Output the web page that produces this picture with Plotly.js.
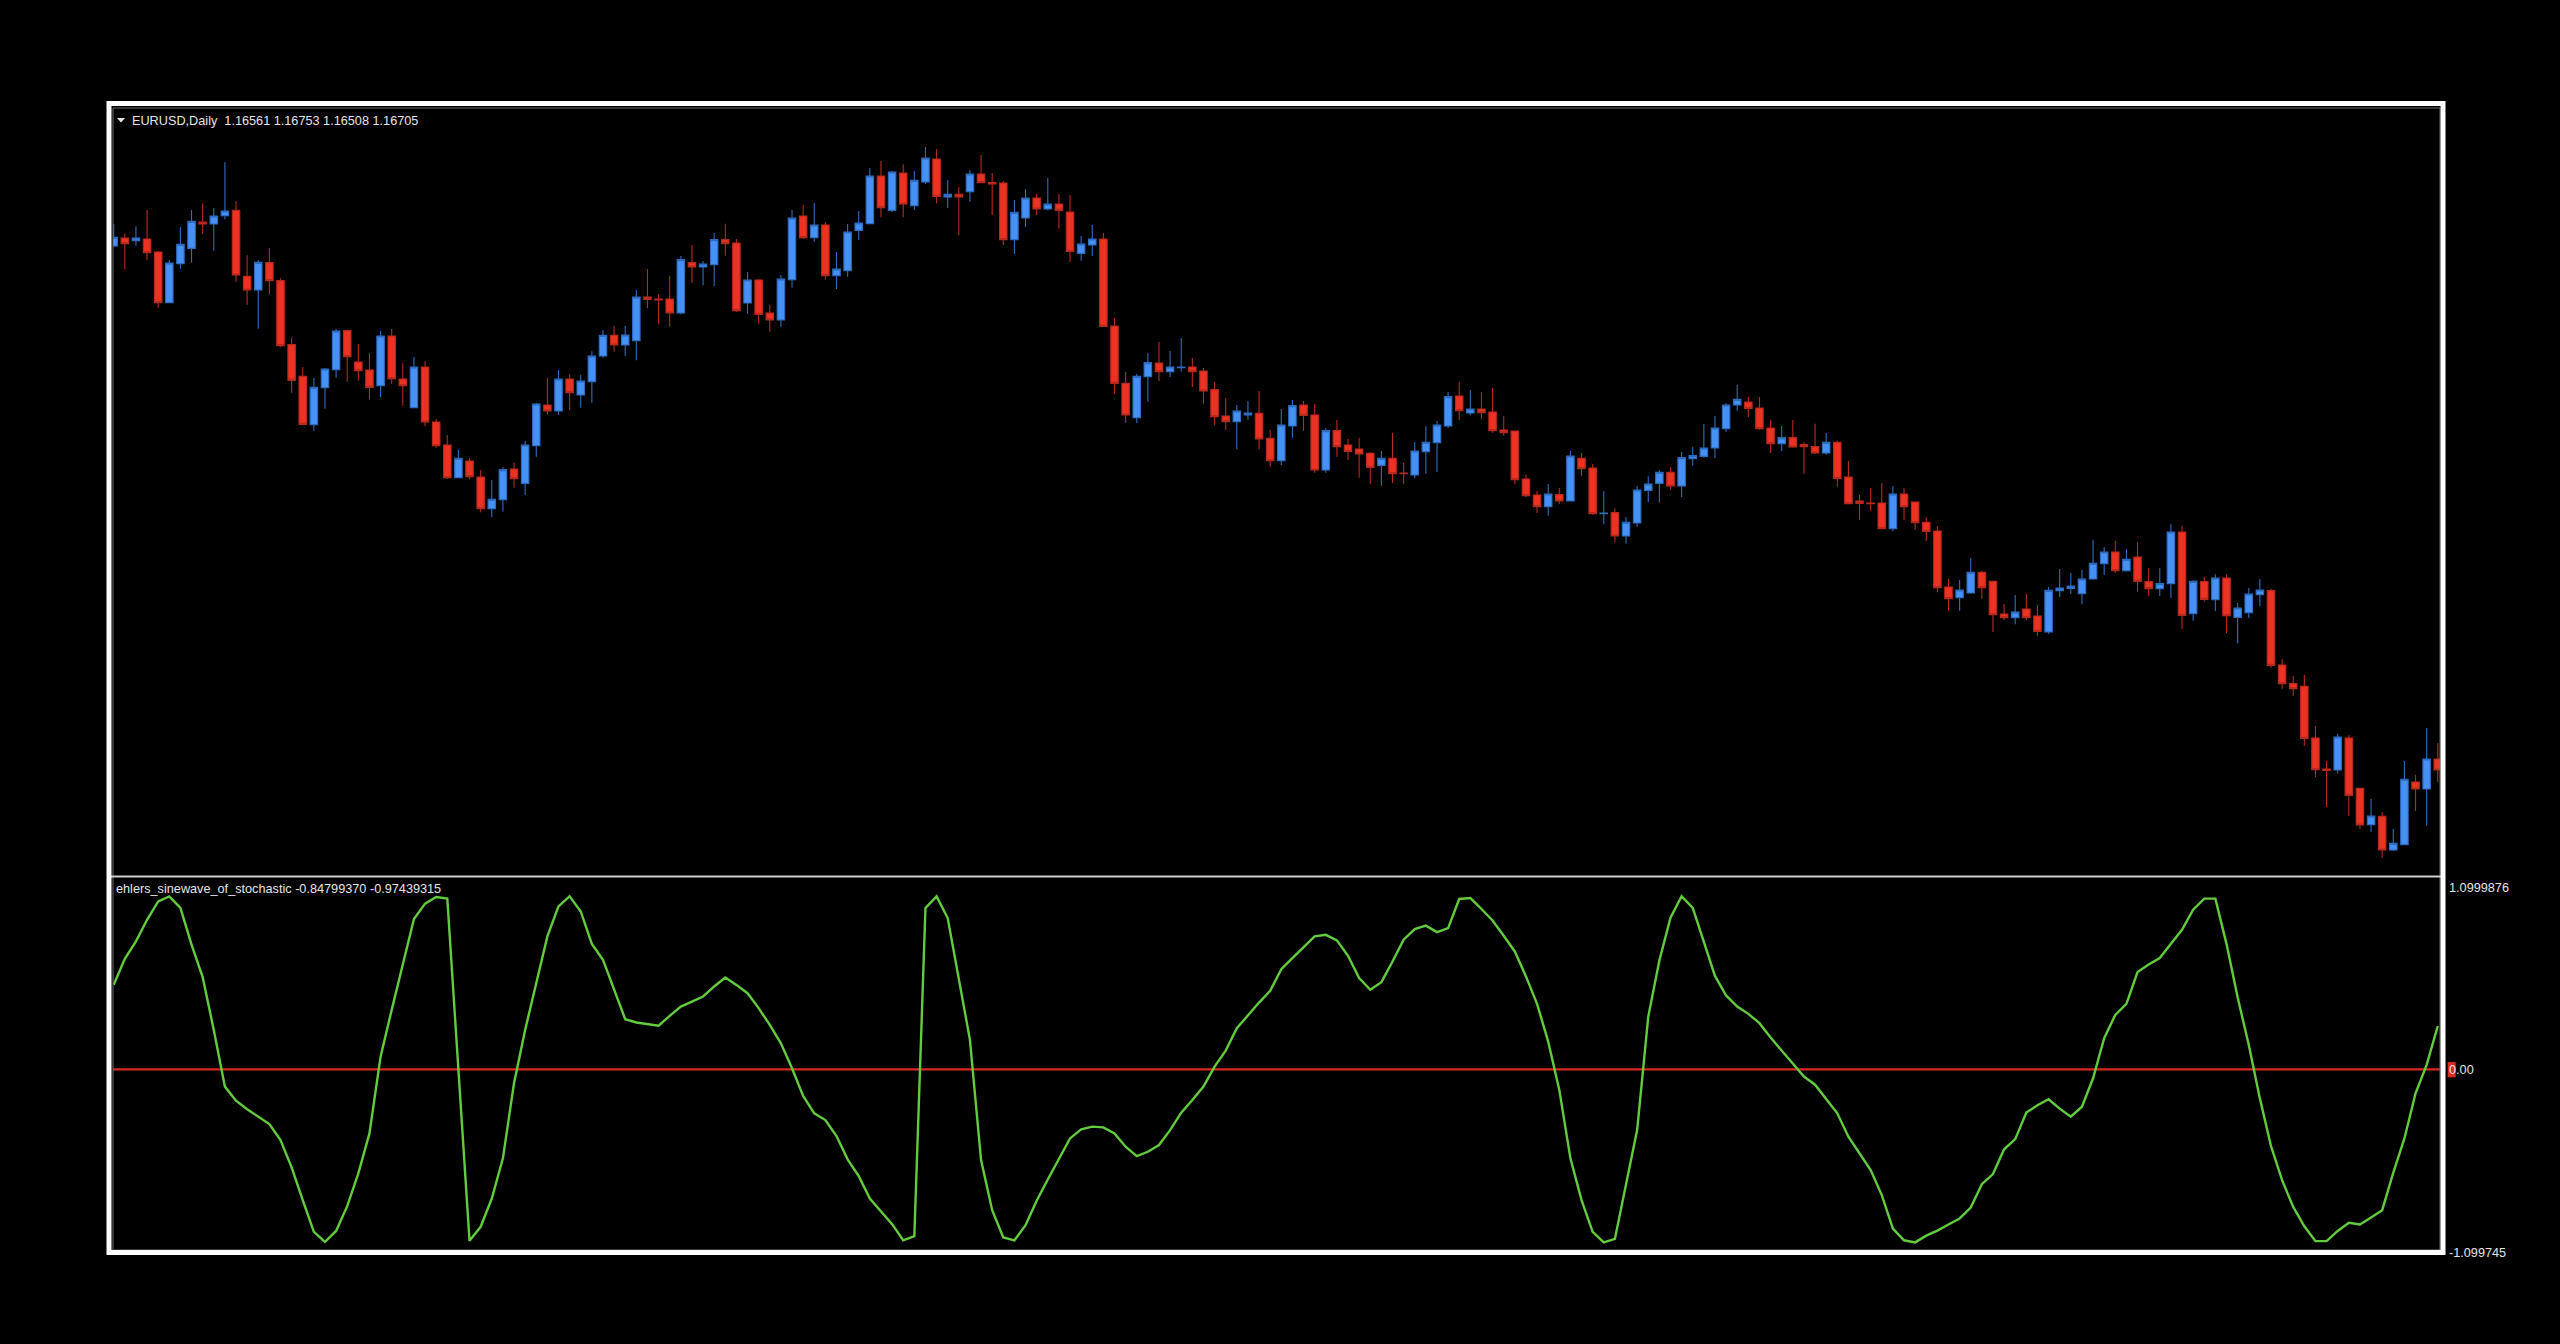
<!DOCTYPE html>
<html>
<head>
<meta charset="utf-8">
<script src="https://cdn.plot.ly/plotly-3.0.1.min.js"></script>
<style>
html,body{margin:0;padding:0;background:#000;overflow:hidden;}
#chart{width:2560px;height:1344px;}
</style>
</head>
<body>
<div id="chart"></div>
<script>
// ---- data (EURUSD Daily, 210 bars) ----
const symbolTitle = "EURUSD,Daily";
const headerOHLC = ["1.16561", "1.16753", "1.16508", "1.16705"];
const indicatorName = "ehlers_sinewave_of_stochastic";
const indicatorHeader = ["-0.84799370", "-0.97439315"];
const indicatorTicks = ["1.0999876", "0.00", "-1.099745"];

const openP = [
1.19804,1.19852,1.19836,1.19846,1.19768,1.19464,1.19698,1.19790,1.19948,1.19936,
1.19986,1.20018,1.19622,1.19540,1.19704,1.19596,1.19212,1.19022,1.18732,1.18954,
1.19062,1.19296,1.19108,1.19060,1.18966,1.19264,1.19006,1.18834,1.19078,1.18748,
1.18610,1.18414,1.18514,1.18418,1.18228,1.18282,1.18466,1.18380,1.18606,1.18850,
1.18814,1.19006,1.18910,1.18990,1.19144,1.19268,1.19210,1.19236,1.19498,1.19486,
1.19486,1.19402,1.19704,1.19678,1.19692,1.19842,1.19822,1.19462,1.19600,1.19402,
1.19360,1.19602,1.19984,1.19854,1.19930,1.19626,1.19656,1.19898,1.19938,1.20224,
1.20018,1.20242,1.20046,1.20188,1.20326,1.20098,1.20114,1.20130,1.20236,1.20184,
1.20182,1.19842,1.19972,1.20092,1.20026,1.20056,1.20008,1.19760,1.19810,1.19846,
1.19324,1.18980,1.18774,1.19020,1.19102,1.19050,1.19074,1.19078,1.19054,1.18942,
1.18784,1.18750,1.18790,1.18800,1.18650,1.18516,1.18724,1.18850,1.18790,1.18460,
1.18696,1.18610,1.18586,1.18560,1.18488,1.18530,1.18442,1.18430,1.18570,1.18624,
1.18724,1.18904,1.18802,1.18826,1.18808,1.18700,1.18694,1.18406,1.18310,1.18240,
1.18312,1.18274,1.18530,1.18472,1.18198,1.18204,1.18064,1.18142,1.18338,1.18380,
1.18446,1.18364,1.18528,1.18542,1.18592,1.18708,1.18850,1.18868,1.18832,1.18712,
1.18618,1.18654,1.18612,1.18600,1.18562,1.18626,1.18418,1.18274,1.18262,1.18262,
1.18108,1.18316,1.18268,1.18146,1.18094,1.17758,1.17694,1.17722,1.17846,1.17792,
1.17596,1.17574,1.17626,1.17584,1.17488,1.17736,1.17750,1.17718,1.17806,1.17898,
1.17968,1.17856,1.17938,1.17790,1.17748,1.17778,1.18088,1.17598,1.17790,1.17682,
1.17812,1.17576,1.17604,1.17712,1.17736,1.17290,1.17178,1.17162,1.16852,1.16666,
1.16660,1.16852,1.16550,1.16332,1.16382,1.16180,1.16212,1.16588,1.16546,1.16726
];
const highP = [
1.19936,1.19880,1.19922,1.20020,1.19774,1.19720,1.19918,1.20020,1.20060,1.20032,
1.20306,1.20072,1.19748,1.19720,1.19792,1.19610,1.19254,1.19078,1.19012,1.19072,
1.19308,1.19300,1.19216,1.19160,1.19294,1.19306,1.19102,1.19138,1.19114,1.18766,
1.18670,1.18580,1.18530,1.18460,1.18400,1.18476,1.18504,1.18634,1.18864,1.19010,
1.19060,1.19034,1.19030,1.19172,1.19298,1.19322,1.19326,1.19540,1.19666,1.19516,
1.19624,1.19744,1.19810,1.19714,1.19882,1.19938,1.19846,1.19648,1.19606,1.19450,
1.19630,1.20020,1.20050,1.20062,1.19946,1.19768,1.19936,1.20014,1.20272,1.20314,
1.20254,1.20294,1.20254,1.20398,1.20386,1.20198,1.20158,1.20260,1.20350,1.20242,
1.20194,1.20080,1.20144,1.20116,1.20212,1.20116,1.20110,1.19864,1.19930,1.19882,
1.19372,1.19050,1.19036,1.19160,1.19228,1.19174,1.19252,1.19132,1.19072,1.18988,
1.18892,1.18850,1.18874,1.18934,1.18700,1.18826,1.18880,1.18874,1.18856,1.18712,
1.18760,1.18646,1.18654,1.18568,1.18574,1.18682,1.18504,1.18628,1.18722,1.18754,
1.18928,1.18990,1.18940,1.18928,1.18952,1.18784,1.18696,1.18434,1.18334,1.18376,
1.18352,1.18574,1.18562,1.18496,1.18334,1.18230,1.18178,1.18364,1.18422,1.18460,
1.18476,1.18568,1.18598,1.18736,1.18784,1.18860,1.18970,1.18900,1.18898,1.18760,
1.18724,1.18760,1.18626,1.18738,1.18682,1.18636,1.18514,1.18310,1.18352,1.18382,
1.18366,1.18350,1.18268,1.18176,1.18124,1.17808,1.17800,1.17932,1.17856,1.17792,
1.17656,1.17710,1.17716,1.17650,1.17758,1.17866,1.17842,1.17860,1.18040,1.17998,
1.18036,1.17986,1.18026,1.17872,1.17872,1.18136,1.18124,1.17798,1.17820,1.17834,
1.17834,1.17662,1.17752,1.17806,1.17748,1.17326,1.17224,1.17232,1.16924,1.16714,
1.16878,1.16870,1.16550,1.16486,1.16406,1.16306,1.16714,1.16632,1.16912,1.16822
];
const lowP = [
1.19796,1.19664,1.19806,1.19720,1.19434,1.19464,1.19668,1.19704,1.19876,1.19776,
1.19964,1.19590,1.19452,1.19308,1.19514,1.19196,1.18924,1.18734,1.18696,1.18828,
1.19014,1.18990,1.18996,1.18882,1.18898,1.18978,1.18846,1.18834,1.18722,1.18594,
1.18406,1.18414,1.18404,1.18206,1.18176,1.18210,1.18354,1.18310,1.18540,1.18792,
1.18790,1.18818,1.18834,1.18864,1.19134,1.19170,1.19144,1.19118,1.19430,1.19338,
1.19320,1.19394,1.19584,1.19568,1.19564,1.19746,1.19408,1.19398,1.19338,1.19290,
1.19318,1.19554,1.19846,1.19830,1.19602,1.19546,1.19620,1.19840,1.19938,1.19976,
1.20008,1.19976,1.20020,1.20176,1.20060,1.20032,1.19868,1.20070,1.20184,1.19990,
1.19810,1.19756,1.19918,1.19990,1.20018,1.19908,1.19708,1.19716,1.19744,1.19318,
1.18916,1.18742,1.18742,1.18870,1.18994,1.19018,1.19050,1.18958,1.18858,1.18730,
1.18700,1.18584,1.18762,1.18584,1.18480,1.18490,1.18654,1.18696,1.18444,1.18444,
1.18540,1.18520,1.18414,1.18378,1.18366,1.18382,1.18376,1.18410,1.18438,1.18448,
1.18710,1.18760,1.18788,1.18766,1.18684,1.18666,1.18376,1.18298,1.18202,1.18186,
1.18256,1.18274,1.18424,1.18192,1.18134,1.18026,1.18018,1.18120,1.18268,1.18264,
1.18342,1.18298,1.18486,1.18534,1.18530,1.18690,1.18816,1.18776,1.18702,1.18562,
1.18574,1.18594,1.18438,1.18556,1.18552,1.18360,1.18258,1.18160,1.18216,1.18104,
1.18092,1.18162,1.18100,1.18036,1.17726,1.17616,1.17616,1.17718,1.17686,1.17488,
1.17560,1.17534,1.17560,1.17466,1.17478,1.17698,1.17716,1.17654,1.17802,1.17830,
1.17844,1.17850,1.17730,1.17704,1.17704,1.17694,1.17508,1.17556,1.17670,1.17614,
1.17482,1.17420,1.17572,1.17644,1.17274,1.17148,1.17104,1.16806,1.16618,1.16438,
1.16638,1.16384,1.16306,1.16288,1.16134,1.16174,1.16212,1.16414,1.16326,1.16590
];
const closeP = [
1.19856,1.19818,1.19852,1.19764,1.19464,1.19702,1.19814,1.19952,1.19936,1.19984,
1.20014,1.19630,1.19540,1.19706,1.19596,1.19206,1.18998,1.18734,1.18956,1.19066,
1.19294,1.19140,1.19056,1.18956,1.19264,1.19008,1.18966,1.19078,1.18748,1.18606,
1.18414,1.18530,1.18420,1.18228,1.18284,1.18462,1.18408,1.18610,1.18856,1.18814,
1.19006,1.18924,1.18994,1.19144,1.19268,1.19210,1.19270,1.19498,1.19484,1.19480,
1.19402,1.19722,1.19678,1.19696,1.19842,1.19818,1.19416,1.19600,1.19394,1.19360,
1.19606,1.19972,1.19854,1.19930,1.19626,1.19666,1.19888,1.19942,1.20224,1.20034,
1.20248,1.20056,1.20198,1.20332,1.20102,1.20114,1.20098,1.20236,1.20184,1.20176,
1.19842,1.20006,1.20092,1.20026,1.20056,1.20018,1.19772,1.19816,1.19846,1.19322,
1.18980,1.18790,1.19022,1.19104,1.19050,1.19078,1.19078,1.19050,1.18934,1.18780,
1.18750,1.18814,1.18802,1.18646,1.18516,1.18730,1.18846,1.18788,1.18460,1.18696,
1.18600,1.18572,1.18556,1.18476,1.18530,1.18438,1.18438,1.18574,1.18626,1.18730,
1.18900,1.18816,1.18826,1.18804,1.18696,1.18684,1.18402,1.18306,1.18240,1.18316,
1.18274,1.18544,1.18468,1.18198,1.18202,1.18064,1.18146,1.18340,1.18376,1.18446,
1.18364,1.18534,1.18546,1.18592,1.18712,1.18850,1.18884,1.18830,1.18708,1.18618,
1.18654,1.18598,1.18600,1.18562,1.18626,1.18410,1.18258,1.18260,1.18258,1.18108,
1.18316,1.18240,1.18144,1.18092,1.17754,1.17688,1.17740,1.17846,1.17754,1.17592,
1.17574,1.17608,1.17574,1.17492,1.17738,1.17752,1.17764,1.17806,1.17900,1.17968,
1.17856,1.17924,1.17792,1.17748,1.17778,1.18088,1.17588,1.17792,1.17684,1.17812,
1.17586,1.17632,1.17716,1.17740,1.17288,1.17178,1.17148,1.16850,1.16662,1.16658,
1.16858,1.16508,1.16330,1.16384,1.16180,1.16220,1.16604,1.16546,1.16726,1.16660
];
const sineValues = [
0.487,0.638,0.738,0.863,0.969,0.998,0.931,0.719,0.532,0.227,
-0.100,-0.181,-0.231,-0.274,-0.316,-0.408,-0.566,-0.755,-0.938,-0.996,
-0.933,-0.790,-0.601,-0.370,0.073,0.343,0.603,0.867,0.956,0.994,
0.985,-0.004,-0.990,-0.909,-0.746,-0.514,-0.081,0.227,0.497,0.767,
0.940,0.999,0.911,0.724,0.632,0.459,0.289,0.270,0.262,0.252,
0.308,0.362,0.391,0.420,0.478,0.530,0.487,0.439,0.353,0.256,
0.150,0.006,-0.154,-0.254,-0.293,-0.385,-0.520,-0.617,-0.746,-0.823,
-0.894,-0.987,-0.963,0.931,0.998,0.873,0.516,0.170,-0.524,-0.813,
-0.971,-0.987,-0.900,-0.759,-0.636,-0.514,-0.399,-0.347,-0.331,-0.335,
-0.370,-0.447,-0.501,-0.476,-0.437,-0.351,-0.250,-0.177,-0.100,0.015,
0.108,0.237,0.314,0.385,0.453,0.578,0.642,0.703,0.767,0.776,
0.744,0.655,0.526,0.459,0.503,0.622,0.748,0.809,0.829,0.792,
0.815,0.983,0.988,0.925,0.859,0.771,0.680,0.536,0.378,0.160,
-0.119,-0.514,-0.755,-0.938,-0.999,-0.979,-0.659,-0.351,0.304,0.628,
0.875,0.999,0.931,0.738,0.539,0.426,0.362,0.320,0.266,0.183,
0.108,0.035,-0.042,-0.089,-0.173,-0.254,-0.389,-0.482,-0.582,-0.726,
-0.919,-0.987,-0.999,-0.960,-0.931,-0.896,-0.861,-0.798,-0.663,-0.605,
-0.462,-0.403,-0.250,-0.208,-0.173,-0.227,-0.274,-0.216,-0.052,0.179,
0.314,0.378,0.561,0.605,0.642,0.724,0.805,0.921,0.985,0.985,
0.724,0.416,0.141,-0.168,-0.443,-0.640,-0.794,-0.906,-0.992,-0.992,
-0.933,-0.886,-0.896,-0.855,-0.813,-0.597,-0.399,-0.139,0.025,0.250
];
const barIndex = openP.map((_, i) => i);

// ---- styling / layout ----
const W = 2560, H = 1344;
const px = x => x / W;
const py = y => 1 - y / H;
const TXT = '#e6e6e6';
const FONT = 'Liberation Sans, Arial, sans-serif';
const BLUE = '#4691f5', BLUE_EDGE = '#2f6cc0';
const RED = '#eb3223', RED_EDGE = '#b92a1e';
const GREEN = '#62cc3c', ZERO = '#dc281e';
const X_RANGE = [-0.063, 209.2];

const traces = [
  {
    type: 'candlestick', x: barIndex,
    open: openP, high: highP, low: lowP, close: closeP,
    xaxis: 'x', yaxis: 'y',
    increasing: {line: {color: BLUE_EDGE, width: 1.1}, fillcolor: BLUE},
    decreasing: {line: {color: RED_EDGE, width: 1.1}, fillcolor: RED},
    whiskerwidth: 0, hoverinfo: 'skip'
  },
  {
    type: 'scatter', mode: 'lines', x: barIndex, y: sineValues,
    xaxis: 'x2', yaxis: 'y2',
    line: {color: GREEN, width: 2.4}, hoverinfo: 'skip'
  }
];

function ann(text, x, y, size) {
  return {text: text, x: px(x), y: py(y), xref: 'paper', yref: 'paper',
    xanchor: 'left', yanchor: 'middle', showarrow: false,
    font: {family: FONT, size: size || 12.7, color: TXT}, borderpad: 0};
}

const layout = {
  width: W, height: H,
  paper_bgcolor: '#000', plot_bgcolor: 'rgba(0,0,0,0)',
  margin: {l: 0, r: 0, t: 0, b: 0},
  showlegend: false,
  boxgap: 0.33, boxgroupgap: 0,
  xaxis: {domain: [px(113), px(2440)], range: X_RANGE, visible: false,
          rangeslider: {visible: false}, fixedrange: true, anchor: 'y'},
  yaxis: {domain: [py(876), py(108)], range: [1.16024, 1.20632], visible: false,
          fixedrange: true, anchor: 'x'},
  xaxis2: {domain: [px(113), px(2440)], range: X_RANGE, visible: false,
           fixedrange: true, anchor: 'y2'},
  yaxis2: {domain: [py(1250), py(878)], range: [-1.043, 1.104], visible: false,
           fixedrange: true, anchor: 'x2'},
  shapes: [
    {type: 'line', xref: 'paper', yref: 'y2', x0: px(113), x1: px(2440), y0: 0, y1: 0,
     line: {color: ZERO, width: 2.2}, layer: 'below'},
    {type: 'rect', xref: 'paper', yref: 'paper', x0: px(113), x1: px(2440), y0: py(1250), y1: py(108),
     line: {color: '#6e6e6e', width: 1}, layer: 'above'},
    {type: 'line', xref: 'paper', yref: 'paper', x0: px(111), x1: px(2441), y0: py(876.5), y1: py(876.5),
     line: {color: '#cfcfcf', width: 2}, layer: 'above'},
    {type: 'rect', xref: 'paper', yref: 'paper', x0: px(109), x1: px(2443), y0: py(1252.5), y1: py(103.5),
     line: {color: '#ffffff', width: 5}, layer: 'above'},
    {type: 'path', xref: 'paper', yref: 'paper',
     path: 'M' + px(117) + ',' + py(118) + ' L' + px(125) + ',' + py(118) + ' L' + px(121) + ',' + py(122.5) + ' Z',
     fillcolor: TXT, line: {width: 0}},
    {type: 'rect', xref: 'paper', yref: 'paper', x0: px(2447.7), x1: px(2455.7), y0: py(1077.3), y1: py(1062),
     fillcolor: ZERO, line: {width: 0}, layer: 'above'}
  ],
  annotations: [
    ann(symbolTitle + '\u00a0\u00a0' + headerOHLC.join(' '), 131, 120.5),
    ann(indicatorName + ' ' + indicatorHeader.join(' '), 115, 889),
    ann(indicatorTicks[0], 2448, 887.5),
    ann(indicatorTicks[1], 2448, 1070),
    ann(indicatorTicks[2], 2448, 1253)
  ]
};

Plotly.newPlot('chart', traces, layout, {staticPlot: true, displayModeBar: false});
</script>
</body>
</html>
